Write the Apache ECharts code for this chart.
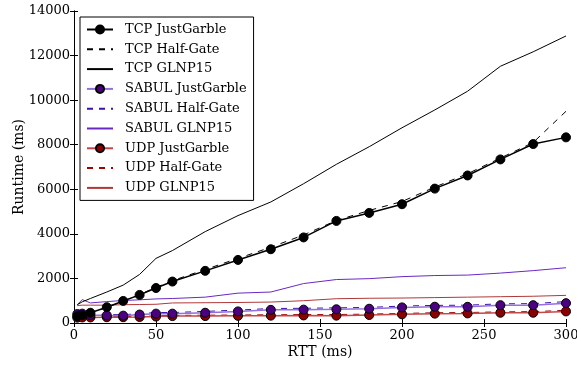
<!DOCTYPE html>
<html>
<head>
<meta charset="utf-8">
<script src="https://cdn.jsdelivr.net/npm/echarts@6/dist/echarts.min.js"></script>
<style>
  html, body { margin: 0; padding: 0; background: #fff; }
  #runtime { width: 577px; height: 366px; }
</style>
</head>
<body>
<div id="runtime"></div>
<script>
// RTT (ms)
const rtt = [2, 5, 10, 20, 30, 40, 50, 60, 80, 100, 120, 140, 160, 180, 200, 220, 240, 260, 280, 300];

// runtime (ms)
const tcpJustGarble = [300, 350, 460, 710, 990, 1260, 1570, 1860, 2340, 2830, 3310, 3840, 4580, 4940, 5330, 6030, 6620, 7340, 8030, 8330];
const tcpHalfGate = [300, 340, 450, 700, 980, 1280, 1600, 1900, 2400, 2900, 3400, 3950, 4600, 5050, 5450, 6100, 6700, 7400, 8100, 9500];
const tcpGLNP15 = [820, 950, 1100, 1390, 1700, 2180, 2900, 3250, 4100, 4820, 5430, 6250, 7120, 7910, 8760, 9560, 10400, 11520, 12170, 12880];
const sabulJustGarble = [400, 420, 360, 340, 330, 380, 420, 420, 460, 520, 590, 600, 615, 640, 700, 730, 725, 800, 800, 890];
const sabulHalfGate = [420, 440, 400, 380, 370, 420, 470, 470, 520, 580, 650, 660, 680, 700, 760, 790, 800, 860, 870, 960];
const sabulGLNP15 = [820, 1050, 900, 960, 1010, 1040, 1080, 1100, 1160, 1340, 1390, 1770, 1950, 1990, 2080, 2130, 2150, 2240, 2350, 2480];
const udpJustGarble = [240, 250, 250, 260, 260, 270, 290, 310, 310, 320, 330, 340, 330, 360, 390, 420, 430, 460, 460, 520];
const udpHalfGate = [260, 270, 270, 290, 290, 300, 320, 340, 350, 360, 370, 380, 380, 400, 430, 460, 470, 500, 510, 570];
const udpGLNP15 = [780, 800, 800, 800, 820, 830, 840, 900, 910, 920, 940, 1000, 1090, 1110, 1120, 1140, 1160, 1180, 1200, 1240];

const font = "DejaVu Serif";

function pairs(ys) {
  return rtt.map((x, i) => [x, ys[i]]);
}

function marked(name, ys, fill, line) {
  return {
    name: name,
    type: "line",
    data: pairs(ys),
    symbol: "circle",
    symbolSize: 9,
    z: 5,
    itemStyle: { color: fill, borderColor: "#000", borderWidth: 1 },
    lineStyle: { color: line, width: 1.5 },
  };
}

function plain(name, ys, color, dashed) {
  return {
    name: name,
    type: "line",
    data: pairs(ys),
    symbol: "none",
    itemStyle: { color: color },
    lineStyle: { color: color, width: 1, type: dashed ? [6, 6] : "solid" },
  };
}

// legend entry without a marker (line only)
function lineOnly(name) {
  return { name: name, itemStyle: { color: "rgba(0,0,0,0)", borderColor: "rgba(0,0,0,0)", borderWidth: 0 } };
}

const chart = echarts.init(document.getElementById("runtime"));

const tickStyle = { show: true, inside: true, length: 4, lineStyle: { color: "#000" } };
const lineStyle = { show: true, lineStyle: { color: "#000", width: 1 } };

chart.setOption({
  animation: false,
  grid: { left: 74, right: 11, top: 11, bottom: 43, outerBoundsMode: "none" },
  xAxis: [
    {
      type: "value", min: 0, max: 300, interval: 50,
      name: "RTT (ms)", nameLocation: "middle", nameGap: 22, nameMoveOverlap: false,
      nameTextStyle: { fontFamily: font, fontSize: 14, color: "#000" },
      axisLine: lineStyle, axisTick: tickStyle, splitLine: { show: false },
      axisLabel: { fontFamily: font, fontSize: 13, color: "#000", margin: 6, formatter: v => String(v) },
    },
    {
      type: "value", min: 0, max: 300, interval: 50, position: "top",
      axisLine: lineStyle, axisTick: tickStyle, splitLine: { show: false },
      axisLabel: { show: false },
    },
  ],
  yAxis: [
    {
      type: "value", min: 0, max: 14000, interval: 2000,
      name: "Runtime (ms)", nameLocation: "middle", nameGap: 48, nameMoveOverlap: false,
      nameTextStyle: { fontFamily: font, fontSize: 14, color: "#000" },
      axisLine: lineStyle, axisTick: tickStyle, splitLine: { show: false },
      axisLabel: { fontFamily: font, fontSize: 13, color: "#000", margin: 4, formatter: v => String(v) },
    },
    {
      type: "value", min: 0, max: 14000, interval: 2000, position: "right",
      axisLine: lineStyle, axisTick: tickStyle, splitLine: { show: false },
      axisLabel: { show: false },
    },
  ],
  legend: {
    orient: "vertical",
    left: 80,
    top: 17,
    padding: [6, 7, 6, 6],
    itemWidth: 26,
    itemHeight: 10,
    itemGap: 6.8,
    backgroundColor: "#fff",
    borderColor: "#000",
    borderWidth: 1,
    textStyle: { fontFamily: font, fontSize: 13, color: "#000", padding: [0, 0, 0, 7] },
    data: [
      "TCP JustGarble", lineOnly("TCP Half-Gate"), lineOnly("TCP GLNP15"),
      "SABUL JustGarble", lineOnly("SABUL Half-Gate"), lineOnly("SABUL GLNP15"),
      "UDP JustGarble", lineOnly("UDP Half-Gate"), lineOnly("UDP GLNP15"),
    ],
  },
  series: [
    plain("UDP GLNP15", udpGLNP15, "#b03838", false),
    plain("SABUL GLNP15", sabulGLNP15, "#6a28c0", false),
    plain("TCP GLNP15", tcpGLNP15, "#000000", false),
    plain("UDP Half-Gate", udpHalfGate, "#a00000", true),
    plain("SABUL Half-Gate", sabulHalfGate, "#3a10b0", true),
    plain("TCP Half-Gate", tcpHalfGate, "#000000", true),
    marked("UDP JustGarble", udpJustGarble, "#8b0000", "#c04848"),
    marked("SABUL JustGarble", sabulJustGarble, "#4b0082", "#9370db"),
    marked("TCP JustGarble", tcpJustGarble, "#000000", "#000000"),
  ],
});
</script>
</body>
</html>
